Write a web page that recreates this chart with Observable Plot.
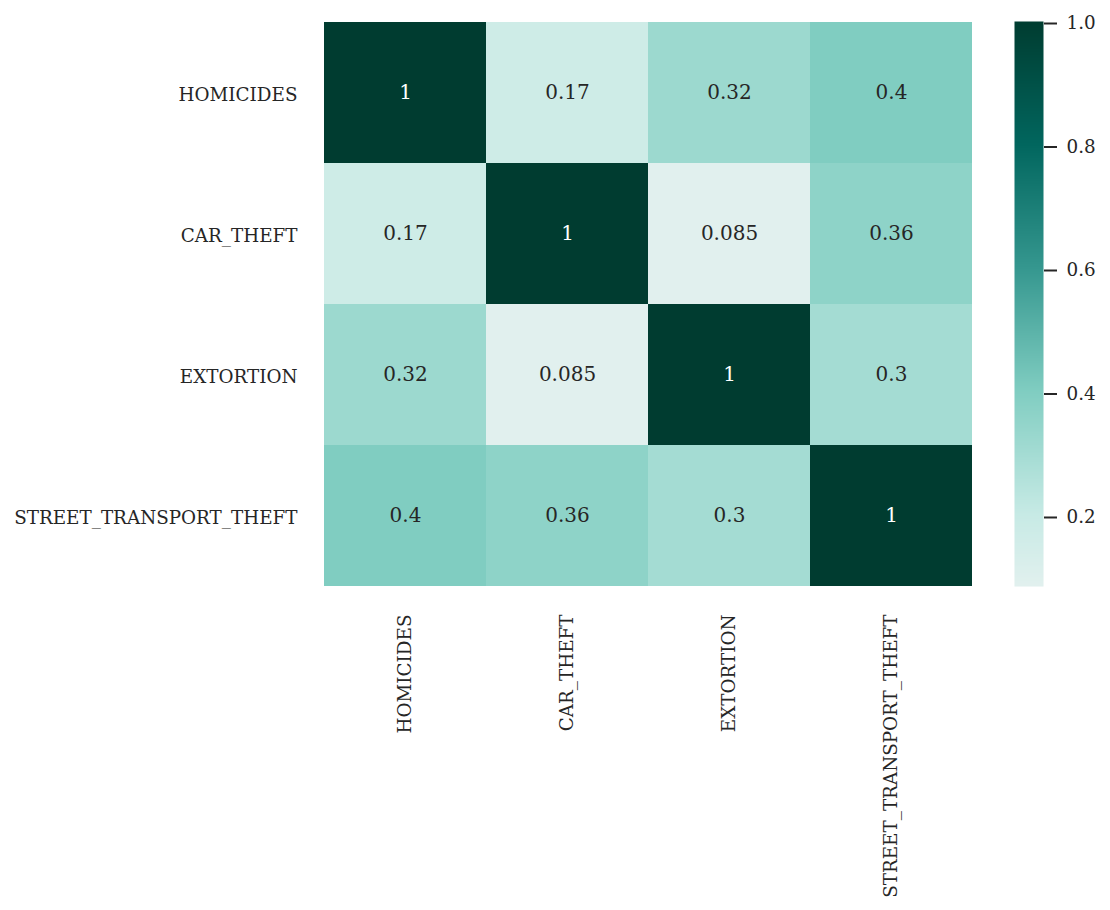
<!DOCTYPE html>
<html>
<head>
<meta charset="utf-8">
<script src="https://cdn.jsdelivr.net/npm/d3@7"></script>
<script src="https://cdn.jsdelivr.net/npm/@observablehq/plot@0.6"></script>
<style>
  html, body { margin: 0; padding: 0; background: #fff; }
  #wrap { position: relative; width: 1110px; height: 910px; }
  #wrap > svg { position: absolute; left: 0; top: 0; }
</style>
</head>
<body>
<div id="wrap"></div>
<script>
const categories = ["HOMICIDES", "CAR_THEFT", "EXTORTION", "STREET_TRANSPORT_THEFT"];
const rowHomicides = [1, 0.17, 0.32, 0.4];
const rowCarTheft = [0.17, 1, 0.085, 0.36];
const rowExtortion = [0.32, 0.085, 1, 0.3];
const rowStreet = [0.4, 0.36, 0.3, 1];
const colorbarTicks = [0.2, 0.4, 0.6, 0.8, 1.0];
const colorMin = 0.085, colorMax = 1.0;

const rows = [rowHomicides, rowCarTheft, rowExtortion, rowStreet];
const cells = [];
rows.forEach((r, i) => r.forEach((v, j) => cells.push({row: categories[i], col: categories[j], value: v})));

const BrBG = ["#543005","#8c510a","#bf812d","#dfc27d","#f6e8c3","#f5f5f5","#c7eae5","#80cdc1","#35978f","#01665e","#003c30"];
const interp = d3.piecewise(d3.interpolateRgb, BrBG);
const colorSpec = {type: "linear", domain: [-1, 1], interpolate: interp};

const font = "'DejaVu Serif', serif";
const fmt = d3.format(".2~g");

const main = Plot.plot({
  width: 1110, height: 910,
  marginLeft: 323, marginRight: 137, marginTop: 21, marginBottom: 324,
  style: {fontFamily: font, fontSize: "18.33px", color: "#262626", background: "transparent"},
  x: {domain: categories, padding: 0, label: null},
  y: {domain: categories, padding: 0, label: null},
  color: colorSpec,
  marks: [
    Plot.cell(cells, {x: "col", y: "row", fill: "value", inset: 0}),
    Plot.text(cells, {x: "col", y: "row", text: d => fmt(d.value), fontSize: 20,
      fill: d => d.value > 0.75 ? "#ffffff" : "#262626"}),
    Plot.axisX({anchor: "bottom", tickSize: 0, tickPadding: 28, tickRotate: -90, label: null}),
    Plot.axisY({anchor: "left", tickSize: 0, tickPadding: 26, dy: 2.5, label: null})
  ]
});

const bar = Plot.plot({
  width: 1110, height: 910,
  marginLeft: 1014, marginRight: 67, marginTop: 21, marginBottom: 324,
  style: {fontFamily: font, fontSize: "18.33px", color: "#262626", background: "transparent"},
  x: {domain: [0, 1], axis: null},
  y: {domain: [colorMin, colorMax], axis: null},
  color: colorSpec,
  marks: [
    Plot.raster({x1: 0, x2: 1, y1: colorMin, y2: colorMax, width: 1, height: 565,
      fill: (x, y) => y, imageRendering: "pixelated"}),
    Plot.axisY({anchor: "right", ticks: colorbarTicks, tickFormat: d3.format(".1f"),
      tickSize: 13, tickPadding: 10, strokeWidth: 2, dy: 2, label: null}),
  ]
});

const wrap = document.getElementById("wrap");
wrap.appendChild(main);
wrap.appendChild(bar);
</script>
</body>
</html>
